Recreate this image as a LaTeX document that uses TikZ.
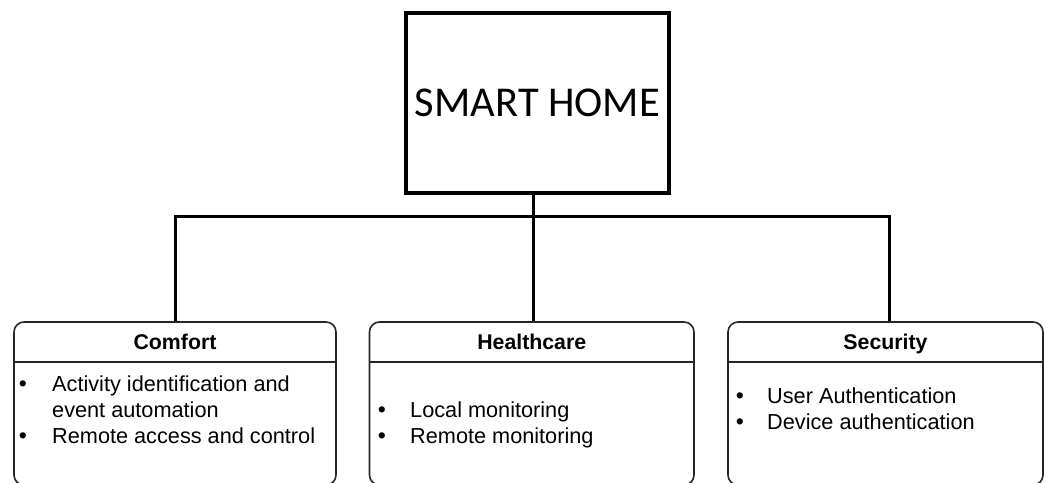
\documentclass[tikz,border=0pt]{standalone}
\usepackage{fontspec}
\setmainfont{Liberation Sans}
\newfontfamily\calib{Carlito}
\begin{document}
\begin{tikzpicture}[x=1pt,y=-1pt,
  homebox/.style={draw=black,line width=4pt,minimum width=263pt,minimum height=180pt,inner sep=0pt,
    font=\calib\fontsize{42.5}{48}\selectfont},
  catbox/.style={draw=black!85,line width=1.6pt,rounded corners=10pt,minimum height=163pt,inner sep=0pt},
  wire/.style={line width=3pt,black},
  divider/.style={line width=1.6pt,black!85},
  head/.style={anchor=base,font=\bfseries\fontsize{21.3}{25}\selectfont,text=black,inner sep=0pt},
  item/.style={anchor=base west,font=\fontsize{21.7}{25}\selectfont,text=black,inner sep=0pt},
  bul/.style={anchor=base,font=\fontsize{23}{25}\selectfont,text=black,inner sep=0pt}]
\useasboundingbox (0,0) rectangle (1046,482);

% top box
\node[homebox] (home) at (537.5,103) {SMART HOME};

% category boxes
\node[catbox,minimum width=322pt] (comfort) at (175,403.5) {};
\node[catbox,minimum width=324.5pt] (health) at (531.75,403.5) {};
\node[catbox,minimum width=315pt] (secur) at (885.5,403.5) {};

% dividers
\coordinate (dy) at (0,362);
\draw[divider] (comfort.west |- dy) -- (comfort.east |- dy);
\draw[divider] (health.west |- dy) -- (health.east |- dy);
\draw[divider] (secur.west |- dy) -- (secur.east |- dy);

% headers
\node[head] (hc) at (175,349) {Comfort};
\node[head] (hh) at (531.75,349) {Healthcare};
\node[head] (hs) at (885.5,349) {Security};

% comfort items
\node[bul] (cb1) at (23,391) {•};
\node[item] (ct1) at (52,391) {Activity identification and};
\node[item] (ct2) at (52,417) {event automation};
\node[bul] (cb2) at (23,443) {•};
\node[item] (ct3) at (52,443) {Remote access and control};

% healthcare items
\node[bul] (hb1) at (382,417) {•};
\node[item] (ht1) at (410,417) {Local monitoring};
\node[bul] (hb2) at (382,443) {•};
\node[item] (ht2) at (410,443) {Remote monitoring};

% security items
\node[bul] (sb1) at (740,403) {•};
\node[item] (st1) at (767,403) {User Authentication};
\node[bul] (sb2) at (740,429) {•};
\node[item] (st2) at (767,429) {Device authentication};

% connectors
\coordinate (jc) at (533.5,216);
\coordinate (jl) at (175,216);
\coordinate (jr) at (889,216);
\draw[wire] (home.south -| jc) -- (jc) -- (jc |- health.north);
\draw[wire] (comfort.north) -- (jl) -- (jr) -- (jr |- secur.north);
\end{tikzpicture}
\end{document}
